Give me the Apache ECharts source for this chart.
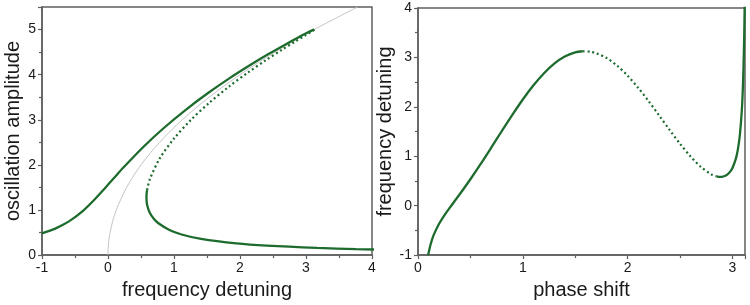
<!DOCTYPE html>
<html>
<head>
<meta charset="utf-8">
<script src="https://cdn.jsdelivr.net/npm/echarts@6/dist/echarts.min.js"></script>
<style>
  html, body { margin: 0; padding: 0; background: #fff; }
  #chart { width: 750px; height: 305px; }
</style>
</head>
<body>
<div id="chart"></div>
<script>
// stable branch, low-phase side (solid)
const upperPhase = [0.0965, 0.10, 0.12, 0.15, 0.20, 0.25, 0.30, 0.35, 0.40, 0.50, 0.60, 0.70, 0.80, 0.90, 1.00, 1.10, 1.20, 1.30, 1.40, 1.50, 1.571]
const upperDetuning = [-1.004, -0.966, -0.785, -0.592, -0.370, -0.200, -0.050, 0.094, 0.237, 0.535, 0.850, 1.178, 1.511, 1.838, 2.149, 2.431, 2.676, 2.874, 3.018, 3.102, 3.125]
const upperAmplitude = [0.482, 0.499, 0.599, 0.747, 0.993, 1.237, 1.478, 1.715, 1.947, 2.397, 2.823, 3.221, 3.587, 3.917, 4.207, 4.456, 4.660, 4.818, 4.927, 4.988, 5.000]

// unstable branch (dotted)
const unstablePhase = [1.571, 1.65, 1.70, 1.80, 1.90, 2.00, 2.10, 2.20, 2.30, 2.40, 2.50, 2.60, 2.70, 2.80, 2.85]
const unstableDetuning = [3.125, 3.113, 3.086, 2.987, 2.833, 2.630, 2.387, 2.116, 1.827, 1.535, 1.253, 0.997, 0.782, 0.632, 0.592]
const unstableAmplitude = [5.000, 4.984, 4.958, 4.869, 4.732, 4.547, 4.316, 4.043, 3.729, 3.377, 2.992, 2.578, 2.137, 1.675, 1.437]

// stable branch, high-phase side (solid)
const lowerPhase = [2.85, 2.86, 2.87, 2.88, 2.90, 2.92, 2.95, 2.98, 3.00, 3.03, 3.05, 3.07, 3.09, 3.10, 3.11, 3.115, 3.117]
const lowerDetuning = [0.592, 0.587, 0.584, 0.583, 0.585, 0.595, 0.629, 0.694, 0.764, 0.931, 1.115, 1.410, 1.945, 2.408, 3.167, 3.761, 4.067]
const lowerAmplitude = [1.437, 1.390, 1.341, 1.296, 1.196, 1.099, 0.952, 0.805, 0.706, 0.557, 0.457, 0.358, 0.258, 0.208, 0.158, 0.133, 0.123]

// backbone curve (grey)
const backboneDetuning = [0, 0.00125, 0.005, 0.0153, 0.03125, 0.0703, 0.125, 0.28125, 0.5, 0.78125, 1.125, 1.53125, 2, 2.53125, 3.125, 3.78125]
const backboneAmplitude = [0, 0.1, 0.2, 0.35, 0.5, 0.75, 1, 1.5, 2, 2.5, 3, 3.5, 4, 4.5, 5, 5.5]

const green = '#1d6b2d'
const axisColor = '#5f5f5f'
const textColor = '#1a1a1a'
const font = 'Liberation Sans, Arial, sans-serif'

function zip(xs, ys) {
  return xs.map((x, i) => [x, ys[i]])
}

function axisBase(extra, hideMax) {
  return Object.assign({
    type: 'value',
    nameLocation: 'middle',
    nameTextStyle: { fontSize: 20, color: textColor, fontFamily: font },
    axisLine: { show: true, onZero: false, lineStyle: { color: axisColor, width: 1.5 } },
    axisTick: { show: true, inside: false, length: 4, lineStyle: { color: axisColor, width: 1.2 } },
    minorTick: { show: true, splitNumber: 2, length: 3, lineStyle: { color: axisColor, width: 1.2 } },
    axisLabel: { fontSize: 14, color: textColor, fontFamily: font, margin: 6, showMaxLabel: !hideMax },
    splitLine: { show: false },
    minorSplitLine: { show: false }
  }, extra)
}

function lineSeries(xAxisIndex, data, style) {
  return {
    type: 'line',
    xAxisIndex: xAxisIndex,
    yAxisIndex: xAxisIndex,
    data: data,
    showSymbol: false,
    symbol: 'none',
    smooth: 0.3,
    clip: true,
    silent: true,
    lineStyle: style
  }
}

const solid = { color: green, width: 2.3, type: 'solid' }
const dotted = { color: green, width: 2.2, type: [2, 2.8] }

const chart = echarts.init(document.getElementById('chart'))

chart.setOption({
  animation: false,
  backgroundColor: '#fff',
  grid: [
    { left: 42, right: 378, top: 7, bottom: 45, show: true, borderColor: axisColor, borderWidth: 1.5, backgroundColor: 'transparent' },
    { left: 418, right: 5, top: 8, bottom: 45, show: true, borderColor: axisColor, borderWidth: 1.5, backgroundColor: 'transparent' }
  ],
  xAxis: [
    axisBase({ gridIndex: 0, min: -1, max: 4, interval: 1, name: 'frequency detuning', nameGap: 20 }),
    axisBase({ gridIndex: 1, min: 0, max: 3.12, interval: 1, name: 'phase shift', nameGap: 20 }, true)
  ],
  yAxis: [
    axisBase({ gridIndex: 0, min: 0, max: 5.5, interval: 1, name: 'oscillation amplitude', nameGap: 19 }, true),
    axisBase({ gridIndex: 1, min: -1, max: 4, interval: 1, name: 'frequency detuning', nameGap: 20 })
  ],
  series: [
    lineSeries(0, zip(backboneDetuning, backboneAmplitude), { color: '#c4c4c4', width: 1 }),
    lineSeries(0, zip(upperDetuning, upperAmplitude), solid),
    lineSeries(0, zip(unstableDetuning, unstableAmplitude), dotted),
    lineSeries(0, zip(lowerDetuning, lowerAmplitude), solid),
    lineSeries(1, zip(upperPhase, upperDetuning), solid),
    lineSeries(1, zip(unstablePhase, unstableDetuning), dotted),
    lineSeries(1, zip(lowerPhase, lowerDetuning), solid)
  ]
})
</script>
</body>
</html>
